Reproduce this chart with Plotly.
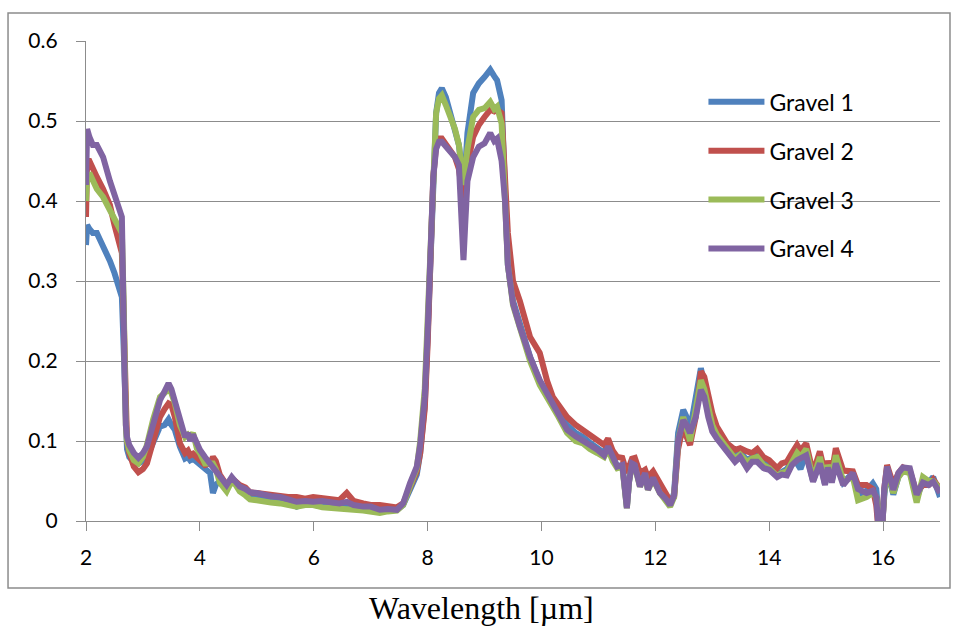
import plotly.graph_objects as go

# Emissivity-style spectra of four gravel samples, wavelength in micrometres
wavelength_um = [
    # 2.00 - 2.76
    2.00, 2.02, 2.06, 2.12, 2.19, 2.30, 2.42, 2.50, 2.57, 2.63, 2.66, 2.68, 2.70, 2.72, 2.76,
    # 2.84 - 4.00
    2.84, 2.92, 3.00, 3.07, 3.18, 3.30, 3.38, 3.45, 3.50, 3.56, 3.65, 3.74, 3.79, 3.83, 3.88, 3.95, 4.00,
    # 4.09 - 7.81
    4.09, 4.18, 4.23, 4.28, 4.35, 4.47, 4.56, 4.62, 4.70, 4.80, 4.88, 5.00, 5.11, 5.25, 5.41, 5.55,
    5.70, 5.85, 5.99, 6.15, 6.29, 6.45, 6.58, 6.70, 6.87, 7.00, 7.16, 7.30, 7.46, 7.57, 7.69, 7.81,
    # 7.87 - 9.41
    7.87, 7.95, 8.00, 8.05, 8.10, 8.15, 8.20, 8.25, 8.32, 8.40, 8.48, 8.55, 8.60, 8.63, 8.66, 8.70,
    8.80, 8.90, 9.00, 9.10, 9.17, 9.22, 9.30, 9.36, 9.41,
    # 9.50 - 12.33
    9.50, 9.62, 9.80, 9.97, 10.10, 10.20, 10.30, 10.45, 10.60, 10.73, 10.85, 10.98, 11.10, 11.17, 11.25,
    11.33, 11.42, 11.50, 11.54, 11.59, 11.64, 11.73, 11.82, 11.87, 11.96, 12.08, 12.18, 12.26, 12.33,
    # 12.40 - 14.00
    12.40, 12.49, 12.55, 12.61, 12.71, 12.80, 12.86, 12.93, 13.00, 13.08, 13.17, 13.26, 13.40, 13.49,
    13.61, 13.70, 13.79, 13.90, 14.00,
    # 14.14 - 17.00
    14.14, 14.22, 14.31, 14.40, 14.49, 14.55, 14.65, 14.77, 14.89, 14.98, 15.03, 15.10, 15.17, 15.30,
    15.40, 15.47, 15.56, 15.71, 15.82, 15.88, 15.93, 15.98, 16.02, 16.07, 16.18, 16.27, 16.35, 16.47,
    16.59, 16.70, 16.80, 16.88, 17.00,
]

gravel_1 = [
    0.345, 0.37, 0.365, 0.36, 0.36, 0.345, 0.325, 0.31, 0.295, 0.28, 0.22, 0.15, 0.11, 0.09, 0.08,
    0.074, 0.072, 0.075, 0.08, 0.097, 0.118, 0.12, 0.127, 0.12, 0.114, 0.093, 0.078, 0.08, 0.076, 0.078, 0.074, 0.072,
    0.066, 0.06, 0.035, 0.045, 0.05, 0.045, 0.053, 0.048, 0.043, 0.038, 0.033, 0.03, 0.028, 0.027, 0.026, 0.024,
    0.018, 0.022, 0.022, 0.022, 0.02, 0.02, 0.02, 0.018, 0.017, 0.016, 0.014, 0.014, 0.014, 0.02, 0.038, 0.058,
    0.085, 0.145, 0.23, 0.33, 0.45, 0.51, 0.535, 0.541, 0.53, 0.51, 0.49, 0.47, 0.44, 0.42, 0.44, 0.485,
    0.535, 0.547, 0.555, 0.564, 0.556, 0.551, 0.526, 0.40, 0.32,
    0.275, 0.245, 0.205, 0.175, 0.16, 0.15, 0.135, 0.12, 0.11, 0.105, 0.098, 0.092, 0.085, 0.095, 0.08,
    0.068, 0.07, 0.018, 0.05, 0.072, 0.07, 0.045, 0.06, 0.04, 0.054, 0.037, 0.03, 0.02, 0.035,
    0.11, 0.139, 0.13, 0.114, 0.15, 0.191, 0.17, 0.14, 0.12, 0.108, 0.10, 0.093, 0.08, 0.086,
    0.076, 0.08, 0.082, 0.074, 0.07,
    0.058, 0.062, 0.065, 0.075, 0.072, 0.065, 0.085, 0.05, 0.075, 0.046, 0.065, 0.05, 0.075, 0.048,
    0.055, 0.06, 0.033, 0.038, 0.047, 0.04, 0.0, -0.01, 0.03, 0.065, 0.033, 0.055, 0.065, 0.062,
    0.028, 0.05, 0.048, 0.055, 0.03,
]

gravel_2 = [
    0.38, 0.45, 0.45, 0.44, 0.43, 0.415, 0.395, 0.37, 0.35, 0.335, 0.26, 0.17, 0.12, 0.10, 0.085,
    0.068, 0.061, 0.065, 0.072, 0.101, 0.13, 0.14, 0.147, 0.145, 0.13, 0.097, 0.085, 0.088, 0.082, 0.084, 0.08, 0.076,
    0.07, 0.072, 0.08, 0.075, 0.058, 0.045, 0.053, 0.05, 0.045, 0.042, 0.036, 0.035, 0.034, 0.032, 0.032, 0.03,
    0.03, 0.028, 0.03, 0.029, 0.027, 0.026, 0.035, 0.025, 0.022, 0.02, 0.02, 0.018, 0.017, 0.022, 0.042, 0.062,
    0.085, 0.14, 0.22, 0.32, 0.43, 0.47, 0.478, 0.478, 0.47, 0.462, 0.455, 0.44, 0.41, 0.40, 0.41, 0.445,
    0.48, 0.495, 0.505, 0.514, 0.512, 0.514, 0.51, 0.44, 0.36,
    0.30, 0.275, 0.23, 0.21, 0.175, 0.155, 0.145, 0.13, 0.12, 0.114, 0.108, 0.101, 0.095, 0.103, 0.088,
    0.08, 0.079, 0.06, 0.07, 0.078, 0.079, 0.06, 0.064, 0.055, 0.062, 0.045, 0.035, 0.025, 0.03,
    0.09, 0.12, 0.105, 0.095, 0.13, 0.187, 0.18, 0.155, 0.135, 0.118, 0.107, 0.097, 0.089, 0.091,
    0.087, 0.085, 0.09, 0.08, 0.076,
    0.066, 0.072, 0.074, 0.085, 0.095, 0.088, 0.097, 0.06, 0.087, 0.06, 0.075, 0.06, 0.091, 0.063,
    0.062, 0.062, 0.045, 0.045, 0.04, 0.02, -0.02, -0.02, 0.04, 0.07, 0.045, 0.06, 0.067, 0.063,
    0.035, 0.045, 0.045, 0.052, 0.04,
]

gravel_3 = [
    0.40, 0.43, 0.435, 0.425, 0.415, 0.405, 0.39, 0.38, 0.37, 0.36, 0.28, 0.17, 0.12, 0.10, 0.088,
    0.076, 0.072, 0.08, 0.095, 0.127, 0.155, 0.16, 0.165, 0.16, 0.147, 0.12, 0.105, 0.108, 0.105, 0.11, 0.09, 0.085,
    0.072, 0.072, 0.072, 0.065, 0.048, 0.037, 0.05, 0.046, 0.037, 0.032, 0.027, 0.026, 0.024, 0.023, 0.022, 0.02,
    0.018, 0.02, 0.02, 0.017, 0.016, 0.015, 0.013, 0.014, 0.013, 0.011, 0.01, 0.012, 0.013, 0.02, 0.045, 0.066,
    0.10, 0.165, 0.25, 0.35, 0.46, 0.51, 0.528, 0.532, 0.52, 0.505, 0.49, 0.47, 0.44, 0.42, 0.44, 0.465,
    0.505, 0.514, 0.516, 0.524, 0.515, 0.518, 0.497, 0.40, 0.32,
    0.27, 0.24, 0.20, 0.17, 0.155, 0.14, 0.13, 0.11, 0.10, 0.097, 0.09, 0.085, 0.08, 0.09, 0.075,
    0.066, 0.068, 0.016, 0.05, 0.07, 0.068, 0.043, 0.058, 0.039, 0.052, 0.035, 0.027, 0.018, 0.03,
    0.10, 0.13, 0.115, 0.10, 0.14, 0.176, 0.165, 0.14, 0.12, 0.108, 0.10, 0.09, 0.078, 0.083,
    0.074, 0.078, 0.08, 0.07, 0.066,
    0.056, 0.06, 0.062, 0.075, 0.085, 0.08, 0.09, 0.052, 0.08, 0.05, 0.07, 0.055, 0.082, 0.05,
    0.052, 0.055, 0.026, 0.03, 0.035, 0.03, 0.0, -0.01, 0.035, 0.065, 0.035, 0.055, 0.062, 0.06,
    0.023, 0.055, 0.05, 0.05, 0.04,
]

gravel_4 = [
    0.42, 0.49, 0.48, 0.47, 0.47, 0.455, 0.425, 0.405, 0.393, 0.38, 0.30, 0.18, 0.12, 0.105, 0.095,
    0.085, 0.079, 0.085, 0.093, 0.122, 0.151, 0.162, 0.172, 0.165, 0.151, 0.126, 0.105, 0.11, 0.10, 0.108, 0.095, 0.089,
    0.08, 0.072, 0.068, 0.062, 0.055, 0.045, 0.055, 0.05, 0.043, 0.04, 0.036, 0.035, 0.033, 0.031, 0.03, 0.027,
    0.024, 0.025, 0.024, 0.025, 0.024, 0.022, 0.024, 0.02, 0.018, 0.018, 0.014, 0.015, 0.014, 0.022, 0.047, 0.068,
    0.095, 0.155, 0.235, 0.33, 0.43, 0.465, 0.474, 0.474, 0.468, 0.462, 0.455, 0.445, 0.36, 0.326, 0.37, 0.425,
    0.455, 0.468, 0.472, 0.485, 0.475, 0.478, 0.45, 0.40, 0.32,
    0.272, 0.243, 0.205, 0.176, 0.16, 0.147, 0.132, 0.114, 0.106, 0.101, 0.095, 0.089, 0.082, 0.093, 0.078,
    0.068, 0.07, 0.016, 0.05, 0.072, 0.07, 0.043, 0.06, 0.039, 0.054, 0.035, 0.028, 0.02, 0.032,
    0.10, 0.126, 0.12, 0.11, 0.13, 0.164, 0.155, 0.13, 0.112, 0.103, 0.095, 0.086, 0.074, 0.08,
    0.066, 0.074, 0.074, 0.066, 0.064,
    0.055, 0.058, 0.057, 0.07, 0.076, 0.078, 0.082, 0.049, 0.072, 0.045, 0.067, 0.048, 0.072, 0.045,
    0.055, 0.06, 0.04, 0.035, 0.038, 0.03, -0.02, -0.02, 0.04, 0.068, 0.039, 0.06, 0.067, 0.066,
    0.033, 0.048, 0.045, 0.049, 0.035,
]

series_names = ["Gravel 1", "Gravel 2", "Gravel 3", "Gravel 4"]
series_colors = ["#4F81BD", "#C0504D", "#9BBB59", "#8064A2"]

series_values = [gravel_1, gravel_2, gravel_3, gravel_4]
for vals in series_values:
    assert len(vals) == len(wavelength_um), (len(vals), len(wavelength_um))

GRID = "#8c8c8c"
SANS = "Lato, 'Open Sans', sans-serif"
TICK_FONT = dict(family=SANS, size=21, color="#000000")
LEGEND_FONT = dict(family=SANS, size=23, color="#000000")

fig = go.Figure()
for i, (name, color, vals) in enumerate(zip(series_names, series_colors, series_values)):
    fig.add_trace(go.Scatter(
        x=wavelength_um, y=vals, mode="lines", name=name,
        legendgroup=f"g{i}",
        line=dict(color=color, width=6),
    ))

fig.update_layout(
    width=957, height=628,
    margin=dict(l=86, r=17, t=41, b=107),
    paper_bgcolor="white", plot_bgcolor="white",
    showlegend=True,
    legend=dict(
        x=0.723, y=0.918, xanchor="left", yanchor="top",
        bgcolor="rgba(0,0,0,0)", font=LEGEND_FONT,
        itemwidth=56, tracegroupgap=16,
    ),
    xaxis=dict(
        range=[2, 17], tick0=2, dtick=2, showgrid=False, zeroline=False,
        showline=True, linecolor=GRID, linewidth=1.3,
        ticks="outside", ticklen=9, tickcolor=GRID, tickwidth=1.3,
        tickfont=TICK_FONT, ticklabelstandoff=9,
    ),
    yaxis=dict(
        range=[0, 0.6], tick0=0, dtick=0.1, showgrid=True, gridcolor=GRID, gridwidth=1.3,
        zeroline=False, showline=True, linecolor=GRID, linewidth=1.3,
        ticks="outside", ticklen=9, tickcolor=GRID, tickwidth=1.3,
        tickfont=TICK_FONT, ticklabelstandoff=14,
    ),
    shapes=[dict(
        type="rect", xref="paper", yref="paper",
        x0=-0.0913, x1=1.0117, y0=-0.1396, y1=1.0585,
        line=dict(color="#8c8c8c", width=1.5), fillcolor="rgba(0,0,0,0)", layer="below",
    )],
    annotations=[dict(
        text="Wavelength [µm]", xref="paper", yref="paper",
        x=0.4637, y=-0.181, xanchor="center", yanchor="middle", showarrow=False,
        font=dict(family="'Liberation Serif', 'Times New Roman', serif", size=32, color="#000000"),
    )],
)

fig.write_html("out.html")
